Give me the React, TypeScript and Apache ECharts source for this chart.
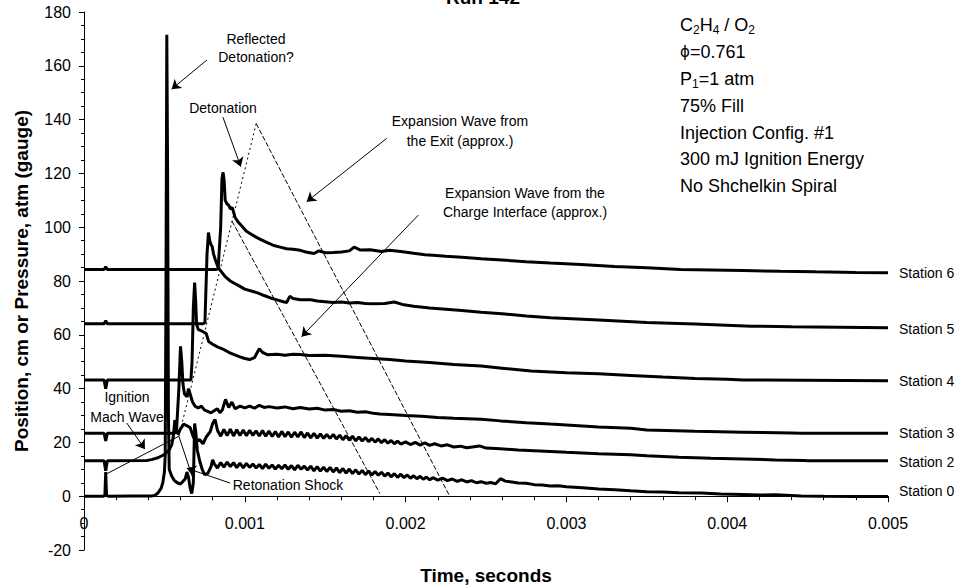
import React, { useEffect, useRef } from 'react';
import * as echarts from 'echarts';

const FONT = '"Liberation Sans", Arial, Helvetica, sans-serif';

// Time values below are in milliseconds; values are cm (offset) or atm (gauge)
const station0: number[][] = [
  [0, 0], [0.12, 0], [0.13, 0.3], [0.135, 9], [0.14, 0.3], [0.15, 0], [0.3, 0.1], [0.42, 0.1], [0.44, 0.3],
  [0.46, 1.2], [0.48, 3], [0.49, 5], [0.5, 9], [0.505, 15], [0.51, 80], [0.515, 171.5], [0.52, 120], [0.525, 30],
  [0.53, 10], [0.545, 7.5], [0.56, 6], [0.58, 5], [0.6, 4.5], [0.615, 5.5], [0.63, 6.5], [0.64, 9], [0.65, 7],
  [0.66, 3], [0.67, 1], [0.68, 5], [0.688, 27], [0.695, 24], [0.705, 17], [0.72, 13], [0.735, 10], [0.75, 8],
  [0.77, 8.5], [0.79, 11], [0.8, 13.5], [0.81, 12], [0.83, 10.5], [0.85, 12.5], [0.87, 10.8], [0.89, 12.7],
  [0.91, 11], [0.93, 12.5], [0.95, 10.6], [0.97, 12.3], [0.99, 10.5], [1.01, 12.2], [1.03, 10.7], [1.05, 12],
  [1.07, 10.5], [1.09, 11.8], [1.11, 10.3], [1.13, 11.9], [1.15, 10.4], [1.17, 11.6], [1.19, 10.1], [1.21, 11.5],
  [1.23, 10.2], [1.25, 11.6], [1.27, 10], [1.29, 11.4], [1.31, 9.8], [1.33, 11.5], [1.35, 10], [1.37, 11.2],
  [1.39, 9.7], [1.41, 11.2], [1.43, 9.4], [1.45, 11], [1.47, 9.3], [1.49, 10.8], [1.51, 9.2], [1.53, 10.7],
  [1.55, 9], [1.57, 10.5], [1.59, 8.8], [1.61, 10.3], [1.63, 8.6], [1.65, 10.1], [1.67, 8.4], [1.69, 9.8],
  [1.71, 8.2], [1.73, 9.6], [1.75, 8], [1.77, 9.4], [1.79, 7.9], [1.81, 9.2], [1.83, 7.8], [1.85, 8.9],
  [1.87, 7.5], [1.89, 8.6], [1.91, 7.2], [1.93, 8.4], [1.95, 7], [1.97, 8.2], [1.99, 6.9], [2.01, 7.9],
  [2.03, 6.7], [2.05, 7.6], [2.07, 6.5], [2.09, 7.4], [2.11, 6.3], [2.13, 7.1], [2.15, 6.1], [2.17, 6.9],
  [2.2, 6], [2.23, 6.7], [2.26, 5.8], [2.29, 6.4], [2.32, 5.5], [2.35, 6.1], [2.38, 5.3], [2.41, 5.8],
  [2.44, 5], [2.47, 5.4], [2.5, 4.8], [2.53, 5.1], [2.56, 4.6], [2.59, 6.5], [2.62, 5.6], [2.66, 5.3],
  [2.7, 4.9], [2.75, 4.8], [2.8, 4.3], [2.85, 4.2], [2.9, 3.8], [2.95, 3.9], [3.0, 3.5], [3.1, 3.1], [3.2, 2.7],
  [3.3, 2.4], [3.4, 2], [3.5, 1.7], [3.6, 1.6], [3.7, 1.3], [3.84, 1.2], [3.96, 0.8], [4.1, 0.6], [4.2, 0.4],
  [4.3, 0.5], [4.46, 0.1], [4.6, 0], [4.8, -0.1], [5.0, -0.1],
];

const station2: number[][] = [
  [0, 13.2], [0.125, 13.2], [0.135, 9.5], [0.145, 13.2], [0.39, 13.3], [0.42, 13.6], [0.46, 14.3], [0.5, 15.5],
  [0.53, 17.2], [0.545, 19], [0.555, 22], [0.565, 28.3], [0.575, 25], [0.585, 23], [0.6, 25], [0.62, 26.8],
  [0.64, 26.2], [0.66, 25.5], [0.68, 22], [0.7, 20.5], [0.72, 21], [0.74, 19.5], [0.76, 22], [0.785, 24],
  [0.8, 27], [0.815, 28.5], [0.83, 24.5], [0.85, 22.3], [0.87, 24.8], [0.89, 22.5], [0.91, 24.9], [0.93, 22.4],
  [0.95, 24.7], [0.97, 22.6], [0.99, 24.6], [1.01, 22.5], [1.03, 24.5], [1.05, 22.6], [1.07, 24.3], [1.09, 22.4],
  [1.11, 24.4], [1.13, 22.3], [1.15, 24.2], [1.17, 22.2], [1.19, 24], [1.21, 22], [1.23, 24.1], [1.25, 22.1],
  [1.27, 23.9], [1.29, 21.9], [1.31, 23.8], [1.33, 22], [1.35, 23.9], [1.37, 21.8], [1.39, 23.5], [1.41, 21.7],
  [1.43, 23.4], [1.45, 21.6], [1.47, 23.2], [1.49, 21.5], [1.51, 23], [1.53, 21.5], [1.55, 23], [1.57, 21.3],
  [1.59, 22.7], [1.61, 21], [1.63, 22.5], [1.65, 20.8], [1.67, 22.3], [1.69, 20.6], [1.71, 22], [1.73, 20.5],
  [1.75, 21.8], [1.77, 20.3], [1.79, 21.5], [1.81, 20.1], [1.83, 21.3], [1.85, 19.9], [1.87, 21], [1.89, 19.7],
  [1.91, 20.7], [1.93, 19.5], [1.95, 20.5], [1.97, 19.4], [2.0, 20.2], [2.03, 19.2], [2.06, 20], [2.09, 19],
  [2.12, 19.8], [2.15, 18.9], [2.18, 19.5], [2.22, 18.7], [2.26, 19.1], [2.3, 18.3], [2.34, 18.6], [2.38, 18],
  [2.46, 18.7], [2.5, 17.9], [2.59, 17.6], [2.7, 17.2], [2.8, 16.9], [2.9, 16.6], [3.0, 16.3], [3.2, 15.8],
  [3.4, 15.4], [3.5, 15.0], [3.7, 14.5], [3.9, 14.1], [4.1, 13.8], [4.3, 13.5], [4.48, 13.3], [4.5, 13.2], [5.0, 13.2],
];

const station3: number[][] = [
  [0, 23.4], [0.125, 23.4], [0.135, 20.5], [0.145, 23.4], [0.56, 23.4], [0.575, 24], [0.59, 40], [0.6, 55.7],
  [0.608, 50], [0.615, 42], [0.625, 38], [0.64, 37], [0.65, 40], [0.66, 38], [0.675, 35], [0.69, 33.5],
  [0.71, 32.8], [0.73, 33.5], [0.75, 32], [0.77, 31.5], [0.79, 31], [0.81, 31.8], [0.83, 32.5], [0.845, 31],
  [0.86, 32], [0.88, 36], [0.9, 33], [0.92, 35], [0.94, 32.5], [0.97, 33.5], [1.0, 32.8], [1.03, 33.5],
  [1.06, 32.7], [1.09, 33.8], [1.12, 33], [1.15, 33.3], [1.2, 32.8], [1.25, 33.2], [1.3, 32.5], [1.345, 33],
  [1.4, 32.4], [1.45, 32.7], [1.5, 32], [1.55, 32.2], [1.6, 31.6], [1.65, 31.8], [1.7, 31.2], [1.75, 31.4],
  [1.8, 30.8], [1.84, 30.6], [1.9, 30.4], [2.0, 30], [2.1, 29.7], [2.2, 29.3], [2.3, 29], [2.47, 28.6],
  [2.59, 28], [2.75, 27.3], [2.9, 26.8], [3.0, 26.5], [3.2, 25.7], [3.4, 25.3], [3.5, 24.6], [3.8, 24.1],
  [4.1, 23.8], [4.4, 23.5], [4.46, 23.4], [5.0, 23.4],
];

const station4: number[][] = [
  [0, 43.2], [0.125, 43.2], [0.135, 40], [0.145, 43.2], [0.665, 43.2], [0.672, 50], [0.68, 70], [0.688, 79.4],
  [0.695, 72], [0.7, 64], [0.71, 62], [0.73, 61.5], [0.76, 60.5], [0.775, 57.5], [0.8, 56.5], [0.83, 55.5],
  [0.86, 54.8], [0.9, 53.5], [0.93, 52.7], [0.97, 51.8], [1.0, 51.2], [1.03, 50.8], [1.06, 51.5], [1.09, 54.8],
  [1.11, 53.5], [1.14, 52.6], [1.2, 52.8], [1.25, 52.4], [1.3, 52.8], [1.345, 52.7], [1.4, 52.3], [1.5, 52.4],
  [1.6, 52], [1.7, 51.6], [1.8, 51.2], [1.9, 50.8], [2.0, 50.3], [2.15, 49.7], [2.3, 49], [2.47, 48.4],
  [2.6, 47.6], [2.78, 46.5], [3.0, 45.9], [3.2, 45.5], [3.4, 44.9], [3.6, 44.3], [3.8, 43.8], [4.0, 43.5],
  [4.1, 43.2], [5.0, 42.9],
];

const station5: number[][] = [
  [0, 64.1], [0.125, 64.1], [0.135, 65.2], [0.145, 64.1], [0.74, 64.1], [0.752, 64.5], [0.765, 90], [0.774, 98],
  [0.782, 95], [0.79, 93.5], [0.797, 92.8], [0.806, 90], [0.816, 88], [0.828, 86], [0.84, 84.5], [0.86, 83],
  [0.88, 81.5], [0.91, 80], [0.94, 79], [0.97, 78], [1.0, 77], [1.04, 76.3], [1.08, 75.6], [1.12, 74.6],
  [1.16, 73.7], [1.2, 73], [1.24, 72.3], [1.26, 72], [1.28, 74.3], [1.3, 73.5], [1.345, 73], [1.41, 73],
  [1.45, 72.6], [1.5, 72.3], [1.55, 72], [1.6, 72.2], [1.65, 71.8], [1.7, 72], [1.75, 71.6], [1.8, 71.5],
  [1.87, 71.6], [1.93, 72.2], [1.98, 71.3], [2.05, 70.6], [2.15, 70], [2.25, 69.5], [2.35, 69], [2.47, 68.4],
  [2.6, 67.8], [2.75, 67], [2.9, 66.3], [3.2, 65.5], [3.5, 64.6], [3.8, 64], [4.15, 63.2], [4.4, 63],
  [4.7, 62.8], [5.0, 62.6],
];

const station6: number[][] = [
  [0, 84.3], [0.125, 84.3], [0.135, 85.3], [0.145, 84.3], [0.82, 84.3], [0.834, 84.5], [0.85, 100], [0.858, 118],
  [0.865, 120.4], [0.872, 117], [0.878, 110], [0.89, 108.6], [0.9, 108.2], [0.91, 106.8], [0.922, 107.3],
  [0.94, 103.6], [0.96, 101.8], [0.98, 100.5], [1.01, 98.5], [1.04, 97.4], [1.07, 96.3], [1.1, 95.4],
  [1.14, 94.3], [1.18, 93.2], [1.22, 92.6], [1.26, 92], [1.3, 91.8], [1.345, 91.4], [1.38, 90.8], [1.43, 90.2],
  [1.46, 91.2], [1.5, 90.5], [1.55, 90.6], [1.6, 90.8], [1.65, 91.2], [1.68, 92.6], [1.72, 91.5], [1.78, 91.6],
  [1.85, 91], [1.9, 91.4], [1.97, 91], [2.05, 90.3], [2.12, 89.8], [2.17, 89.6], [2.25, 89.2], [2.35, 88.8],
  [2.47, 88.3], [2.6, 87.8], [2.75, 87.2], [2.9, 86.7], [3.09, 86.1], [3.3, 85.4], [3.5, 84.9], [3.71, 84.3],
  [3.9, 84.1], [4.1, 83.9], [4.33, 83.6], [4.55, 83.4], [4.8, 83.2], [5.0, 83.1],
];

const stationNames = ['Station 0', 'Station 2', 'Station 3', 'Station 4', 'Station 5', 'Station 6'];
const stationLabelOffsets = [-5, 1, 0, 0, 1, 0];

// Wave trajectories (ms, cm)
const detonationLine: number[][] = [[0.59, 22.3], [1.071, 138.5]];
const exitExpansionLine: number[][] = [[1.071, 138.5], [2.27, 0.5]];
const chargeExpansionLine: number[][] = [[0.92, 102.3], [1.84, 1]];
const machWaveLine: number[][] = [[0.137, 8.2], [0.59, 22.3]];
const retonationLine: number[][] = [[0.59, 22.3], [0.675, 7]];

// Annotation arrows: [t1, v1, t2(head), v2(head)]
const arrows: number[][] = [
  [0.765, 162.2, 0.545, 151.3],
  [0.864, 140.9, 0.975, 122.5],
  [1.882, 133.0, 1.385, 109.5],
  [2.079, 104.5, 1.353, 59.3],
  [0.266, 27.2, 0.379, 17.5],
  [0.908, 4.9, 0.639, 10.4],
];

const xTickValues = [0, 0.001, 0.002, 0.003, 0.004, 0.005];
const Y_MIN = -20;
const Y_MAX = 180;

const GRID_TOP = 12;
const GRID_BOTTOM = 37;
const CHART_H = 587;

const toSec = (arr: number[][]) => arr.map(([t, v]) => [t / 1000, v]);

export default function App() {
  const ref = useRef<HTMLDivElement>(null);
  useEffect(() => {
    const chart = echarts.init(ref.current!, null, { renderer: 'svg' });
    const stations = [station0, station2, station3, station4, station5, station6];

    // distance (px) from grid bottom (y = Y_MIN) up to y = 0, so the time axis crosses at zero
    const plotH = CHART_H - GRID_TOP - GRID_BOTTOM;
    const zeroShift = (plotH * (0 - Y_MIN)) / (Y_MAX - Y_MIN);

    const traceSeries = stations.map((d, i) => ({
      type: 'line',
      name: stationNames[i],
      data: toSec(d),
      showSymbol: false,
      symbol: 'none',
      lineStyle: { color: '#000', width: 3 },
      z: 10,
      silent: true,
      endLabel: {
        show: true,
        formatter: stationNames[i],
        distance: 11,
        offset: [0, stationLabelOffsets[i]],
        color: '#000',
        fontSize: 14,
        fontFamily: FONT,
      },
    }));

    const thin = (data: number[][], type: any) => ({
      type: 'line',
      data: toSec(data),
      showSymbol: false,
      symbol: 'none',
      silent: true,
      z: 4,
      lineStyle: { color: '#000', width: 1, type },
    });

    const infoText = (y: number, text: string) => ({
      type: 'text',
      x: 680,
      y,
      silent: true,
      style: {
        text,
        fill: '#000',
        align: 'left',
        verticalAlign: 'middle',
        rich: {
          m: { fontSize: 18, fontFamily: FONT, lineHeight: 22, fill: '#000' },
          s: { fontSize: 12, fontFamily: FONT, lineHeight: 12, verticalAlign: 'bottom', fill: '#000' },
          p: { fontSize: 15, fontFamily: 'DejaVu Sans', lineHeight: 22, fill: '#000' },
        },
      },
    });

    const note = (x: number, y: number, text: string) => ({
      type: 'text',
      x,
      y,
      silent: true,
      style: {
        text,
        fill: '#000',
        fontSize: 14,
        fontFamily: FONT,
        align: 'center',
        verticalAlign: 'middle',
      },
    });

    const option: any = {
      animation: false,
      backgroundColor: '#fff',
      grid: {
        left: 84, right: 69, top: GRID_TOP, bottom: GRID_BOTTOM,
        containLabel: false, outerBoundsMode: 'none',
      },
      xAxis: {
        type: 'value',
        min: 0,
        max: 0.005,
        interval: 0.001,
        position: 'bottom',
        offset: -zeroShift,
        name: 'Time, seconds',
        nameLocation: 'middle',
        nameGap: 70,
        nameTextStyle: { fontSize: 19, fontWeight: 'bold', fontFamily: FONT, color: '#000' },
        axisLine: { onZero: false, lineStyle: { color: '#000', width: 1 } },
        axisTick: { show: true, length: 6, lineStyle: { color: '#000' } },
        minorTick: { show: true, splitNumber: 5, length: 4, lineStyle: { color: '#000' } },
        splitLine: { show: false },
        axisLabel: {
          margin: 19,
          fontSize: 16,
          fontFamily: FONT,
          color: '#000',
          formatter: (v: number) => {
            const m = xTickValues.find((t) => Math.abs(t - v) < 1e-9);
            return m === 0 ? '0' : String(m ?? v);
          },
        },
      },
      yAxis: {
        type: 'value',
        min: Y_MIN,
        max: Y_MAX,
        interval: 20,
        name: 'Position, cm or Pressure, atm (gauge)',
        nameLocation: 'middle',
        nameGap: 53,
        nameTextStyle: { fontSize: 19, fontWeight: 'bold', fontFamily: FONT, color: '#000' },
        axisLine: { show: true, onZero: false, lineStyle: { color: '#000', width: 1 } },
        axisTick: { show: true, length: 5, lineStyle: { color: '#000' } },
        minorTick: { show: true, splitNumber: 4, length: 3, lineStyle: { color: '#000' } },
        splitLine: { show: false },
        axisLabel: { margin: 13, fontSize: 16, fontFamily: FONT, color: '#000' },
      },
      series: [
        thin(detonationLine, [2, 3]),
        thin(exitExpansionLine, [5, 2]),
        thin(chargeExpansionLine, [5, 2]),
        thin(machWaveLine, 'solid'),
        thin(retonationLine, 'solid'),
        {
          type: 'lines',
          coordinateSystem: 'cartesian2d',
          silent: true,
          z: 5,
          symbol: ['none', 'arrow'],
          symbolSize: 9,
          lineStyle: { color: '#000', width: 1, opacity: 1 },
          data: arrows.map((a) => ({ coords: [[a[0] / 1000, a[1]], [a[2] / 1000, a[3]]] })),
        },
        ...traceSeries,
      ],
      graphic: [
        {
          type: 'text',
          x: 483,
          y: -3,
          silent: true,
          style: {
            text: 'Run 142',
            fill: '#000',
            fontSize: 19,
            fontWeight: 'bold',
            fontFamily: FONT,
            align: 'center',
            verticalAlign: 'middle',
          },
        },
        infoText(25, '{m|C}{s|2}{m|H}{s|4}{m| / O}{s|2}'),
        infoText(52, '{p|ϕ}{m|=0.761}'),
        infoText(79, '{m|P}{s|1}{m|=1 atm}'),
        infoText(106, '{m|75% Fill}'),
        infoText(133, '{m|Injection Config. #1}'),
        infoText(159, '{m|300 mJ Ignition Energy}'),
        infoText(186, '{m|No Shchelkin Spiral}'),
        note(256, 39, 'Reflected'),
        note(256, 57, 'Detonation?'),
        note(223, 108, 'Detonation'),
        note(460, 121, 'Expansion Wave from'),
        note(460, 141, 'the Exit (approx.)'),
        note(525, 193, 'Expansion Wave from the'),
        note(525, 212, 'Charge Interface (approx.)'),
        note(127, 397, 'Ignition'),
        note(127, 417, 'Mach Wave'),
        note(288, 485, 'Retonation Shock'),
      ],
    };
    chart.setOption(option);
    return () => chart.dispose();
  }, []);
  return (
    <div
      ref={ref}
      style={{ position: 'absolute', left: 0, top: 0, width: 957, height: 587, background: '#fff' }}
    />
  );
}
